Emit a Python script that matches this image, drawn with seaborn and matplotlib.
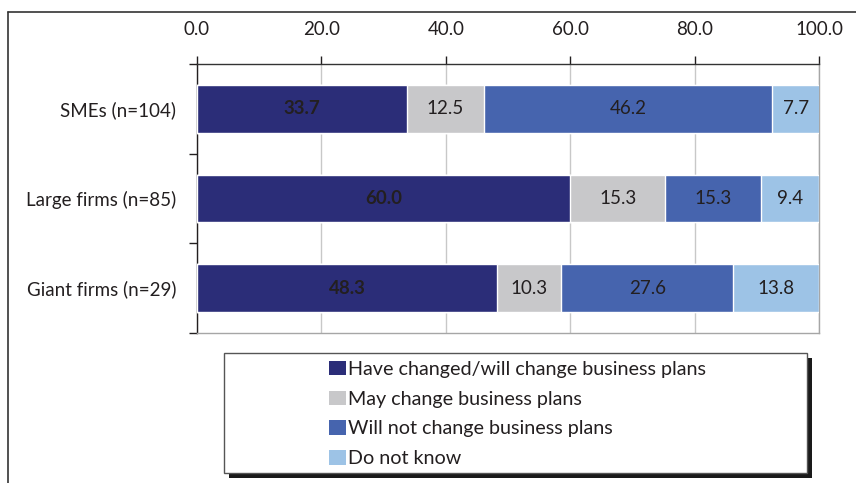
import numpy as np
import pandas as pd
import seaborn as sns
import matplotlib.pyplot as plt
from matplotlib.patches import Patch, Rectangle
from matplotlib.lines import Line2D
from matplotlib.ticker import FixedLocator

groups = ["SMEs (n=104)", "Large firms (n=85)", "Giant firms (n=29)"]
series = ["Have changed/will change business plans", "May change business plans",
          "Will not change business plans", "Do not know"]
changed = [33.7, 60.0, 48.3]
may_change = [12.5, 15.3, 10.3]
will_not = [46.2, 15.3, 27.6]
dont_know = [7.7, 9.4, 13.8]
colors = ["#2B2D78", "#C8C8CA", "#4664AE", "#9DC3E6"]

sns.set_style("white")
plt.rcParams["font.family"] = ["Lato", "DejaVu Sans"]

vals = np.array([changed, may_change, will_not, dont_know])
cum = vals.cumsum(axis=0)

fig = plt.figure(figsize=(8.56, 4.83), dpi=100)
ax = fig.add_axes([197 / 856, 1 - 333 / 483, 622 / 856, 269 / 483])

# stacked bars: draw cumulative totals from the outside in
for i in range(len(series) - 1, -1, -1):
    df = pd.DataFrame({"group": groups, "total": cum[i]})
    sns.barplot(data=df, x="total", y="group", orient="h", color=colors[i],
                saturation=1, width=0.53, ax=ax, zorder=3)

for i in range(len(series)):
    for j in range(len(groups)):
        ax.text(cum[i][j] - vals[i][j] / 2, j, f"{vals[i][j]:.1f}", ha="center", va="center",
                fontsize=13.5, color="#231F20", fontweight="bold" if i == 0 else "normal", zorder=4)

ax.set_xlim(0, 100)
ax.set_ylim(2.5, -0.5)
ax.set_xlabel("")
ax.set_ylabel("")
ax.xaxis.tick_top()
ax.set_xticks(np.arange(0, 101, 20))
ax.set_xticklabels([f"{t:.1f}" for t in np.arange(0, 101, 20)])
ax.tick_params(axis="x", top=True, direction="out", length=6, width=1, pad=13,
               labelsize=13.5, colors="#231F20")
ax.tick_params(axis="y", which="major", left=False, length=0, pad=15, labelsize=13.5,
               colors="#231F20")
ax.yaxis.set_minor_locator(FixedLocator([-0.5, 0.5, 1.5, 2.5]))
ax.tick_params(axis="y", which="minor", left=True, direction="out", length=6, width=1,
               color="#231F20")
ax.grid(axis="x", color="#C8C8C8", linewidth=1, zorder=0)
ax.set_axisbelow(True)
ax.spines["top"].set_color("#333333")
ax.spines["left"].set_color("#231F20")
ax.spines["right"].set_color("#A6A6A6")
ax.spines["bottom"].set_color("#A6A6A6")
for s in ax.spines.values():
    s.set_linewidth(1)

# outer frame (partly cropped)
fig.add_artist(Line2D([8 / 856, 8 / 856], [0, 1 - 12 / 483], color="#333333", lw=1.2))
fig.add_artist(Line2D([8 / 856, 1], [1 - 12 / 483, 1 - 12 / 483], color="#333333", lw=1.2))

# legend box with shadow
fig.add_artist(Rectangle((229 / 856, 1 - 478 / 483), 583 / 856, 120 / 483,
                         transform=fig.transFigure, facecolor="#1A1A1A", edgecolor="none"))
fig.add_artist(Rectangle((224 / 856, 1 - 473 / 483), 583 / 856, 120 / 483,
                         transform=fig.transFigure, facecolor="white", edgecolor="#555555", lw=1))
handles = [Patch(facecolor=c, edgecolor="none") for c in colors]
fig.legend(handles, series, loc="upper left", bbox_to_anchor=(321 / 856, 1 - 353 / 483),
           frameon=False, fontsize=14.2, handlelength=0.85, handleheight=0.75, handletextpad=0.12,
           labelspacing=0.64, borderaxespad=0, labelcolor="#231F20")

fig.savefig("out.png", dpi=100)
